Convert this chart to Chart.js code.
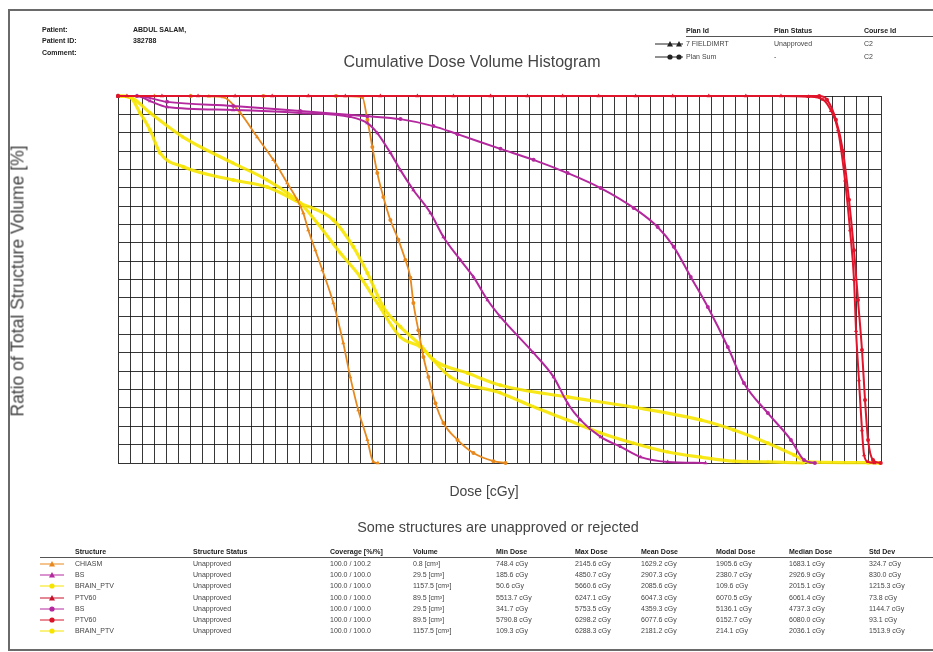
<!DOCTYPE html>
<html>
<head>
<meta charset="utf-8">
<title>Cumulative Dose Volume Histogram</title>
<script src="https://cdn.jsdelivr.net/npm/chart.js@4.4.0/dist/chart.umd.min.js"></script>
<style>
    body { margin: 0; background: #fff; font-family: "Liberation Sans", Arial, sans-serif; }
    #page { position: relative; width: 933px; height: 652px; overflow: hidden; background: #fff; }
    #frame { position: absolute; left: 8px; top: 9px; width: 940px; height: 638px; border: 2px solid #6a6a6a; border-right: none; }
    #dvh { position: absolute; left: 0; top: 0; }
    .t { position: absolute; white-space: nowrap; line-height: 8px; font-size: 7px; color: #444; }
    .b { font-weight: bold; color: #222; }
    .big { position: absolute; white-space: nowrap; color: #444; }
    .rule { position: absolute; height: 1px; background: #555; }
</style>
</head>
<body>
<div id="page">
    <div id="frame"></div>
    <canvas id="dvh" width="933" height="652"></canvas>
    <div class="big" style="left:472px; top:53px; font-size:16px; transform:translateX(-50%);">Cumulative Dose Volume Histogram</div>
    <div class="big" style="left:18px; top:281px; font-size:17.5px; transform:translate(-50%,-50%) rotate(-90deg);">Ratio of Total Structure Volume [%]</div>
    <div class="big" style="left:484px; top:483px; font-size:14px; transform:translateX(-50%);">Dose [cGy]</div>
    <div class="big" style="left:498px; top:519px; font-size:14.4px; transform:translateX(-50%);">Some structures are unapproved or rejected</div>
    <div class="rule" style="left:686px; top:36px; width:247px;"></div>
    <div class="rule" style="left:40px; top:557px; width:893px;"></div>
</div>

<script>
// patient header
const patientLabels = ['Patient:', 'Patient ID:', 'Comment:'];
const patientValues = ['ABDUL SALAM,', '382788', ''];

// plans
const planIds = ['7 FIELDIMRT', 'Plan Sum'];
const planStatus = ['Unapproved', '-'];
const planCourse = ['C2', 'C2'];
const planSymbols = ['triangle', 'circle'];

// structure table
const structNames = ['CHIASM', 'BS', 'BRAIN_PTV', 'PTV60', 'BS', 'PTV60', 'BRAIN_PTV'];
const structColors = ['#e8891e', '#b4289e', '#f5e400', '#c8102a', '#b4289e', '#d8142a', '#f5e400'];
const structSymbols = ['triangle', 'triangle', 'circle', 'triangle', 'circle', 'circle', 'circle'];
const structStatus = ['Unapproved', 'Unapproved', 'Unapproved', 'Unapproved', 'Unapproved', 'Unapproved', 'Unapproved'];
const coverage = ['100.0 / 100.2', '100.0 / 100.0', '100.0 / 100.0', '100.0 / 100.0', '100.0 / 100.0', '100.0 / 100.0', '100.0 / 100.0'];
const volumes = [0.8, 29.5, 1157.5, 89.5, 29.5, 89.5, 1157.5];
const minDose = [748.4, 185.6, 50.6, 5513.7, 341.7, 5790.8, 109.3];
const maxDose = [2145.6, 4850.7, 5660.6, 6247.1, 5753.5, 6298.2, 6288.3];
const meanDose = [1629.2, 2907.3, 2085.6, 6047.3, 4359.3, 6077.6, 2181.2];
const modalDose = [1905.6, 2380.7, 109.6, 6070.5, 5136.1, 6152.7, 214.1];
const medianDose = [1683.1, 2926.9, 2015.1, 6061.4, 4737.3, 6080.0, 2036.1];
const stdDev = [324.7, 830.0, 1215.3, 73.8, 1144.7, 93.1, 1513.9];

// DVH curves, dose [cGy] and volume [%]
const chiasmFieldDose = [0, 300, 600, 750, 868, 1009, 1149, 1282, 1397, 1480, 1530, 1571, 1629, 1687, 1778, 1860, 1918, 1984, 2059, 2108, 2146];
const chiasmFieldVol = [100, 100, 100, 99.9, 99.7, 95.4, 88.8, 82.6, 76.3, 71.7, 68.1, 63.5, 58, 52.6, 43.6, 32.7, 23.4, 14.4, 6.3, 0.3, 0];
const chiasmSumDose = [0, 600, 1200, 1800, 2017, 2059, 2100, 2141, 2191, 2249, 2315, 2373, 2414, 2439, 2480, 2522, 2563, 2621, 2687, 2803, 2935, 3100, 3200];
const chiasmSumVol = [100, 100, 100, 100, 99.7, 93.5, 86.1, 79, 72.5, 66.2, 60.8, 55.3, 50.5, 43.6, 36.2, 28.9, 23.4, 16.3, 10.9, 6.3, 2.7, 0.5, 0];

const bsFieldDose = [0, 157, 265, 405, 951, 1505, 1918, 2059, 2141, 2249, 2332, 2439, 2580, 2687, 2828, 2935, 3051, 3158, 3431, 3597, 3712, 3820, 3985, 4151, 4316, 4539, 4851];
const bsFieldVol = [100, 100, 98.6, 97, 96.2, 95.4, 94.3, 92.6, 89.9, 84.5, 79.8, 74.4, 68.1, 61.6, 55.3, 50.7, 44.4, 39.8, 30, 23.4, 16.3, 11.7, 7.1, 4.4, 1.6, 0.3, 0];
const bsSumDose = [0, 157, 405, 951, 1505, 2059, 2332, 2604, 2803, 3158, 3431, 3712, 3985, 4258, 4456, 4589, 4729, 4870, 5035, 5168, 5366, 5556, 5664, 5754];
const bsSumVol = [100, 100, 98.4, 97.3, 95.9, 94.5, 93.7, 91.8, 89.6, 85.6, 82.6, 79, 74.9, 69.5, 64.3, 58.9, 50.7, 42.5, 31.6, 21.8, 13.6, 6.3, 0.8, 0];

const brainFieldDose = [0, 99, 265, 537, 951, 1232, 1505, 1645, 1836, 2001, 2141, 2332, 2497, 2745, 3158, 3431, 3712, 3985, 4258, 4539, 4812, 5085, 5366, 5661];
const brainFieldVol = [100, 99.7, 95.4, 88.8, 81.7, 77.1, 70.8, 65.4, 57.2, 50.7, 43.6, 34.3, 31.6, 23.4, 19.1, 15.3, 11.7, 8.2, 5.4, 3, 1.6, 0.5, 0.3, 0];
const brainSumDose = [0, 99, 182, 265, 347, 537, 951, 1232, 1505, 1778, 1943, 2059, 2191, 2332, 2497, 2604, 2886, 3158, 3712, 4258, 4812, 5085, 5366, 5581, 5697, 6193, 6288];
const brainSumVol = [100, 99.7, 95.4, 90.7, 84.5, 80.7, 77.1, 75.2, 70.8, 66.2, 58.9, 51.8, 42.5, 37.1, 32.1, 28.1, 24.5, 21.2, 18, 15.2, 11.7, 9, 5.4, 2.2, 0.3, 0.1, 0];

const ptvFieldDose = [0, 74, 363, 661, 967, 1273, 1571, 1877, 2166, 2472, 2770, 3076, 3381, 3671, 3968, 4274, 4580, 4878, 5184, 5474, 5700, 5821, 5887, 5945, 6003, 6044, 6077, 6094, 6118, 6143, 6160, 6193, 6247];
const ptvFieldVol = [100, 100, 100, 100, 100, 100, 100, 100, 100, 100, 100, 100, 100, 100, 100, 100, 100, 100, 100, 100, 99.8, 99, 96, 90.7, 77, 63.5, 50, 36, 22.6, 9, 2.2, 0.3, 0];
const ptvSumDose = [0, 5790, 5854, 5928, 5986, 6036, 6077, 6110, 6143, 6168, 6193, 6234, 6298];
const ptvSumVol = [100, 100, 99, 93.5, 85, 71.7, 58, 44.4, 30.8, 17.2, 6.3, 0.8, 0];

const page = document.getElementById('page');

function addText(txt, x, cy, cls) {
    const d = document.createElement('div');
    d.className = 't ' + (cls || '');
    d.style.left = x + 'px';
    d.style.top = (cy - 4) + 'px';
    d.textContent = txt;
    page.appendChild(d);
}

// small line + symbol glyph used in the legends
function addSymbol(x, cy, w, color, symbol, count) {
    const ns = 'http://www.w3.org/2000/svg';
    const svg = document.createElementNS(ns, 'svg');
    svg.setAttribute('width', w);
    svg.setAttribute('height', 8);
    svg.style.position = 'absolute';
    svg.style.left = x + 'px';
    svg.style.top = (cy - 4) + 'px';
    const line = document.createElementNS(ns, 'line');
    line.setAttribute('x1', 0); line.setAttribute('x2', w);
    line.setAttribute('y1', 4); line.setAttribute('y2', 4);
    line.setAttribute('stroke', color);
    line.setAttribute('stroke-width', 1);
    svg.appendChild(line);
    for (let k = 0; k < count; k++) {
        const cx = count === 1 ? w / 2 : w - 4 - (count - 1 - k) * 9;
        let s;
        if (symbol === 'triangle') {
            s = document.createElementNS(ns, 'polygon');
            s.setAttribute('points', `${cx - 3},6.5 ${cx + 3},6.5 ${cx},1`);
        } else {
            s = document.createElementNS(ns, 'circle');
            s.setAttribute('cx', cx); s.setAttribute('cy', 4); s.setAttribute('r', 2.6);
        }
        s.setAttribute('fill', color);
        svg.appendChild(s);
    }
    page.appendChild(svg);
}

// header block
patientLabels.forEach((lab, i) => {
    addText(lab, 42, 30 + i * 11.3, 'b');
    if (patientValues[i]) addText(patientValues[i], 133, 30 + i * 11.3, 'b');
});

addText('Plan Id', 686, 31, 'b');
addText('Plan Status', 774, 31, 'b');
addText('Course Id', 864, 31, 'b');
planIds.forEach((id, i) => {
    const cy = 44 + i * 12.5;
    addSymbol(655, cy, 28, '#222', planSymbols[i], 2);
    addText(id, 686, cy);
    addText(planStatus[i], 774, cy);
    addText(planCourse[i], 864, cy);
});

// structure table
const colX = [75, 193, 330, 413, 496, 575, 641, 716, 789, 869];
const colHeads = ['Structure', 'Structure Status', 'Coverage [%/%]', 'Volume', 'Min Dose', 'Max Dose', 'Mean Dose', 'Modal Dose', 'Median Dose', 'Std Dev'];
colHeads.forEach((h, j) => addText(h, colX[j], 552, 'b'));

const cgy = v => v.toFixed(1) + ' cGy';
structNames.forEach((name, i) => {
    const cy = 564 + i * 11.2;
    addSymbol(40, cy, 24, structColors[i], structSymbols[i], 1);
    const row = [name, structStatus[i], coverage[i], volumes[i].toFixed(1) + ' [cm³]',
        cgy(minDose[i]), cgy(maxDose[i]), cgy(meanDose[i]), cgy(modalDose[i]), cgy(medianDose[i]), cgy(stdDev[i])];
    row.forEach((v, j) => addText(v, colX[j], cy));
});

// chart
function pts(xs, ys) {
    return xs.map((x, i) => ({ x: x, y: ys[i] }));
}

function curve(label, xs, ys, color, symbol, width, order) {
    return {
        label: label,
        data: pts(xs, ys),
        borderColor: color,
        backgroundColor: color,
        borderWidth: width,
        pointStyle: symbol,
        pointRadius: symbol === 'triangle' ? 2.4 : 2,
        pointBorderWidth: 0,
        cubicInterpolationMode: 'monotone',
        fill: false,
        clip: 4,
        order: order
    };
}

const orange = '#e8891e', magenta = '#b4289e', yellow = 'rgba(247, 230, 0, 0.9)', red = '#e0142a';

const ctx = document.getElementById('dvh').getContext('2d');
new Chart(ctx, {
    type: 'line',
    data: {
        datasets: [
            curve('CHIASM (7 FIELDIMRT)', chiasmFieldDose, chiasmFieldVol, orange, 'triangle', 1.8, 3),
            curve('CHIASM (Plan Sum)', chiasmSumDose, chiasmSumVol, orange, 'circle', 1.8, 3),
            curve('BS (7 FIELDIMRT)', bsFieldDose, bsFieldVol, magenta, 'triangle', 2, 2),
            curve('BRAIN_PTV (7 FIELDIMRT)', brainFieldDose, brainFieldVol, yellow, 'triangle', 3.2, 4),
            curve('PTV60 (7 FIELDIMRT)', ptvFieldDose, ptvFieldVol, red, 'triangle', 2, 0),
            curve('BS (Plan Sum)', bsSumDose, bsSumVol, magenta, 'circle', 2, 2),
            curve('PTV60 (Plan Sum)', ptvSumDose, ptvSumVol, red, 'circle', 2, 0),
            curve('BRAIN_PTV (Plan Sum)', brainSumDose, brainSumVol, yellow, 'circle', 3.2, 4)
        ]
    },
    options: {
        responsive: false,
        animation: false,
        layout: {
            padding: { left: 118, top: 96, right: 52, bottom: 189 }
        },
        plugins: {
            legend: { display: false },
            tooltip: { enabled: false }
        },
        scales: {
            x: {
                type: 'linear',
                min: 0,
                max: 6300,
                ticks: { display: false, stepSize: 100, maxTicksLimit: 100 },
                grid: { color: 'rgba(20, 20, 20, 0.85)', lineWidth: 1, drawTicks: false },
                border: { color: '#333', width: 1 }
            },
            y: {
                min: 0,
                max: 100,
                ticks: { display: false, stepSize: 5, maxTicksLimit: 40 },
                grid: { color: 'rgba(20, 20, 20, 0.85)', lineWidth: 1, drawTicks: false },
                border: { color: '#333', width: 1 }
            }
        }
    }
});
</script>
</body>
</html>
